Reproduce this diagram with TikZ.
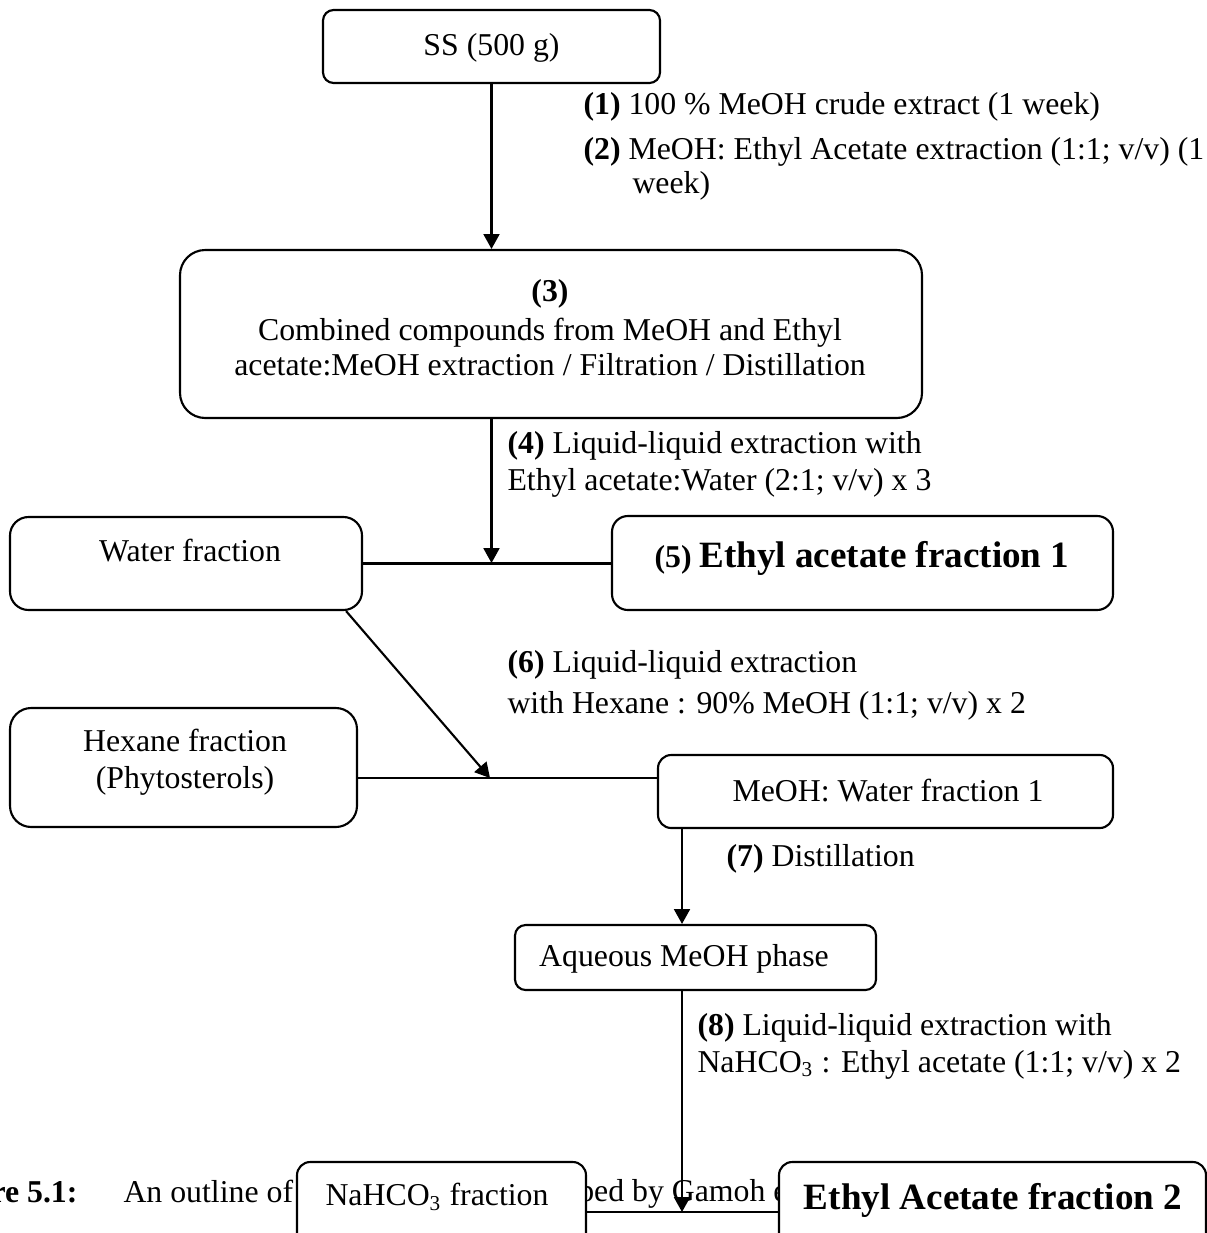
\documentclass[tikz,border=0pt]{standalone}
\usepackage{fontspec}
\setmainfont{Liberation Serif}
\usetikzlibrary{arrows.meta,calc}
\begin{document}
\begin{tikzpicture}[x=0.3774pt,y=-0.3774pt,
  box/.style={draw, line width=0.8pt, fill=white, rounded corners=#1, inner sep=0pt},
  sz/.style 2 args={minimum width=#1*0.3774pt, minimum height=#2*0.3774pt},
  txt/.style={inner sep=0pt, font=\fontsize{12}{13.4}\selectfont, align=center},
  lab/.style={inner sep=0pt, anchor=west, font=\fontsize{12}{13.9}\selectfont, align=left},
  arr/.style={line width=0.8pt, -{Triangle[length=5.6pt,width=6pt]}},
  ln/.style={line width=0.8pt},
  big/.style={font=\fontsize{14}{16}\selectfont\bfseries}]
\useasboundingbox (0,0) rectangle (1207,1233);
% caption fragments (partly hidden by boxes)
\node[txt, anchor=base east] (cap1) at (78,1202) {\textbf{Figure 5.1:}};
\node[txt, anchor=base west] (cap2) at (123,1202) {An outline of the extraction};
\node[txt, anchor=base west] (cap3) at (493,1201) {developed by Gamoh et al.};
% boxes
\node[box=4pt, sz={337}{73}] (ss) at (491.5,46.5) {};
\node[box=9.5pt, sz={742}{168}] (b3) at (551,334) {};
\node[box=7pt, sz={352}{93}] (water) at (186,563.5) {};
\node[box=6pt, sz={501}{94}] (ea1) at (862.5,563) {};
\node[box=8pt, sz={347}{119}] (hex) at (183.5,767.5) {};
\node[box=5pt, sz={455}{73}] (meoh) at (885.5,791.5) {};
\node[box=4pt, sz={361}{65}] (aq) at (695.5,957.5) {};
\node[box=5pt, sz={289}{138}] (na) at (441.5,1231) {};
\node[box=5pt, sz={427}{138}] (ea2) at (992.5,1231) {};
% connectors
\coordinate (j1) at (491.5,563);
\coordinate (j2) at (490,778);
\coordinate (ax) at (682,0);
\coordinate (j3) at (682,1212);
\draw[arr] (ss.south) -- (ss.south |- b3.north);
\draw[arr] (ss.south |- b3.south) -- (j1);
\draw[ln] (water.east) -- (water.east -| ea1.west);
\draw[arr] ($(water.south east)+(-17,0)$) -- (j2);
\draw[ln] (hex.east |- j2) -- (meoh.west |- j2);
\draw[arr] (meoh.south -| ax) -- (aq.north -| ax);
\draw[arr] (aq.south -| ax) -- (j3);
\draw[ln] (na.east |- j3) -- (ea2.west |- j3);
% box texts
\node[txt] (ss-t) at (491.5,48) {SS (500 g)};
\node[txt] (b3-t) at (550,328) {\textbf{(3)}\\[1pt]Combined compounds from MeOH and Ethyl\\acetate:MeOH extraction / Filtration / Distillation};
\node[txt] (water-t) at (190,551) {Water fraction};
\node[txt] (ea1-t) at (862,558) {\textbf{(5)} {\fontsize{14}{16}\selectfont\bfseries Ethyl acetate fraction 1}};
\node[txt] (hex-t) at (185,762) {Hexane fraction\\[0.5pt](Phytosterols)};
\node[txt] (meoh-t) at (888,791) {MeOH: Water fraction 1};
\node[txt] (aq-t) at (684,959) {Aqueous MeOH phase};
\node[txt] (na-t) at (437,1197) {NaHCO\textsubscript{3} fraction};
\node[txt, big] (ea2-t) at (993,1200) {Ethyl Acetate fraction 2};
% step labels
\node[lab] (l1) at (583,107) {\textbf{(1)} 100 \% MeOH crude extract (1 week)};
\node[lab] (l2) at (583,152) {\textbf{(2)} MeOH: Ethyl Acetate extraction (1:1; v/v) (1};
\node[lab] (l2b) at (632,186) {week)};
\node[lab] (l4) at (507,464) {\textbf{(4)} Liquid-liquid extraction with\\Ethyl acetate:Water (2:1; v/v) x 3};
\node[lab] (l6) at (507,685) {\textbf{(6)} Liquid-liquid extraction\\[1.5pt]with Hexane : 90\% MeOH (1:1; v/v) x 2};
\node[lab] (l7) at (726,859) {\textbf{(7)} Distillation};
\node[lab] (l8) at (697,1046) {\textbf{(8)} Liquid-liquid extraction with\\NaHCO\textsubscript{3} : Ethyl acetate (1:1; v/v) x 2};
\end{tikzpicture}
\end{document}
